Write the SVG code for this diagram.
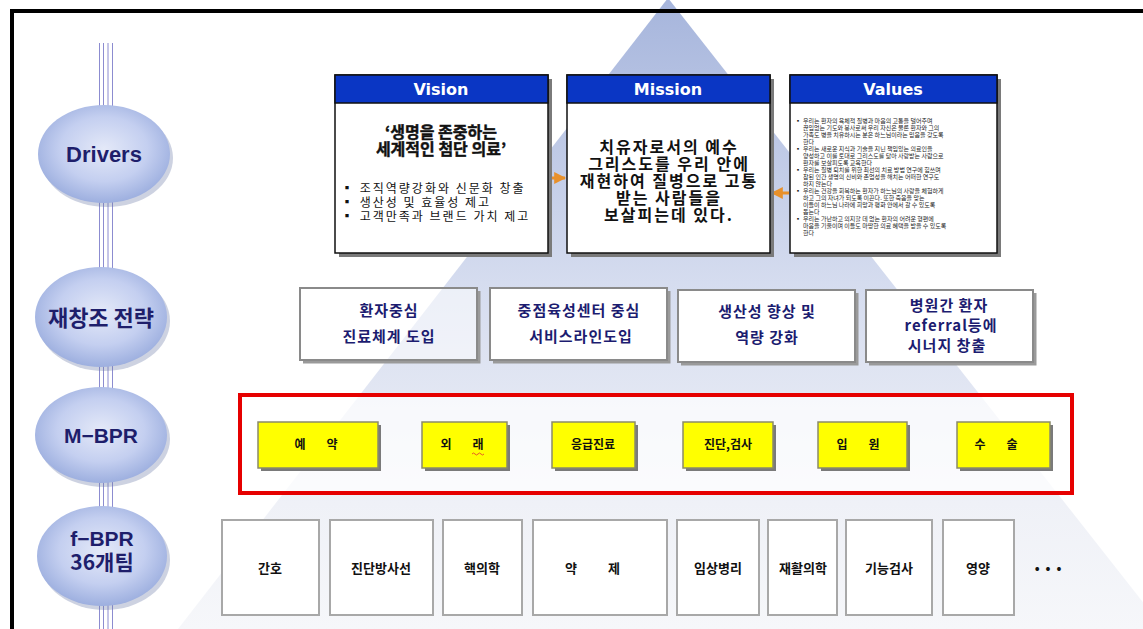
<svg xmlns="http://www.w3.org/2000/svg" width="1143" height="629" viewBox="0 0 1143 629">
<defs>
<linearGradient id="pyr" x1="0" y1="0" x2="0" y2="1">
<stop offset="0" stop-color="#a6b5dc"/>
<stop offset="0.45" stop-color="#d5dcef"/>
<stop offset="0.8" stop-color="#eff1f7"/>
<stop offset="1" stop-color="#f6f7fa"/>
</linearGradient>
<radialGradient id="ell" cx="0.5" cy="0.45" r="0.55">
<stop offset="0" stop-color="#e4e9f8"/>
<stop offset="0.6" stop-color="#c4cff0"/>
<stop offset="1" stop-color="#9dafdf"/>
</radialGradient>
<marker id="oar" viewBox="0 0 10 10" refX="9" refY="5" markerWidth="4" markerHeight="4" orient="auto-start-reverse">
<path d="M0,0 L10,5 L0,10 z" fill="#e8902a"/>
</marker>
<style>
.lvl{font-family:'Liberation Sans','Noto Sans CJK KR',sans-serif;font-weight:bold;fill:#1e1e6b;text-anchor:middle}
.kr{font-family:'Noto Sans CJK KR','Liberation Sans',sans-serif}
.hdr{font-family:'DejaVu Sans','Liberation Sans',sans-serif;font-weight:bold;font-size:16px;fill:#ffffff;text-anchor:middle}
.card{fill:#ffffff;stroke:#111111;stroke-width:1.5}
.head{fill:#0a36c4;stroke:#111111;stroke-width:1.5}
.shd{fill:#7a7a7a}
.sshd{fill:none;stroke:#9a9a9a;stroke-width:3}
.sbox{fill:#ffffff;stroke:#8a8a8a;stroke-width:2}
.stx{font-family:'Noto Sans CJK KR',sans-serif;font-weight:bold;font-size:15px;fill:#1c1c70;text-anchor:middle;letter-spacing:1px}
.ybox{fill:#ffff00;stroke:#8a8a6a;stroke-width:1.5}
.ytx{font-family:'Noto Sans CJK KR',sans-serif;font-weight:bold;font-size:12px;fill:#111111;text-anchor:middle}
.fbox{fill:#ffffff;stroke:#a8a8a8;stroke-width:2}
.ftx{font-family:'Noto Sans CJK KR',sans-serif;font-weight:bold;font-size:13px;fill:#111111;text-anchor:middle}
.vl{stroke:#8c8cd0;stroke-width:1}
.val{font-family:'Noto Sans CJK KR',sans-serif;font-size:6px;fill:#222222}
.mis{font-family:'Noto Sans CJK KR',sans-serif;font-size:16px;font-weight:bold;fill:#111111;text-anchor:middle;letter-spacing:2px}
</style>
</defs>

<rect x="0" y="0" width="1143" height="629" fill="#ffffff"/>
<polygon points="668,-2 178,629 1164,629" fill="url(#pyr)"/>
<rect x="12" y="11" width="1200" height="700" fill="none" stroke="#000000" stroke-width="4"/>

<g id="connectors">
<line class="vl" x1="99.5" y1="43" x2="99.5" y2="629"/>
<line class="vl" x1="103.5" y1="43" x2="103.5" y2="629"/>
<line class="vl" x1="108" y1="43" x2="108" y2="629"/>
<line class="vl" x1="112.5" y1="43" x2="112.5" y2="629"/>
<line x1="549" y1="178" x2="565" y2="178" stroke="#e8902a" stroke-width="3" marker-end="url(#oar)"/>
<line x1="789" y1="193" x2="772" y2="193" stroke="#e8902a" stroke-width="3" marker-end="url(#oar)"/>
</g>

<g id="lvl-drivers">
<ellipse cx="107" cy="158" rx="66" ry="49" fill="#6f7fa8" opacity="0.35"/>
<ellipse cx="104" cy="154" rx="66" ry="49" fill="url(#ell)"/>
<text class="lvl" x="104" y="162" font-size="22">Drivers</text>
</g>
<g id="lvl-strategy">
<ellipse cx="104" cy="321" rx="66" ry="50" fill="#6f7fa8" opacity="0.35"/>
<ellipse cx="101" cy="317" rx="66" ry="50" fill="url(#ell)"/>
<text class="lvl kr" x="101" y="326" font-size="22">재창조 전략</text>
</g>
<g id="lvl-mbpr">
<ellipse cx="104" cy="439" rx="66" ry="48" fill="#6f7fa8" opacity="0.35"/>
<ellipse cx="101" cy="435" rx="66" ry="48" fill="url(#ell)"/>
<text class="lvl" x="101" y="443" font-size="21">M−BPR</text>
</g>
<g id="lvl-fbpr">
<ellipse cx="105" cy="560" rx="65" ry="50" fill="#6f7fa8" opacity="0.35"/>
<ellipse cx="102" cy="556" rx="65" ry="50" fill="url(#ell)"/>
<text class="lvl" x="102" y="546" font-size="21">f−BPR</text>
<text class="lvl kr" x="102" y="570" font-size="21">36개팀</text>
</g>

<g id="vision">
<rect class="shd" x="339" y="79" width="213" height="178"/>
<rect class="card" x="335" y="75" width="213" height="178"/>
<rect class="head" x="335" y="75" width="213" height="28"/>
<text class="hdr" x="441" y="95">Vision</text>
<text class="kr" x="441" y="138" font-size="16" font-weight="bold" text-anchor="middle" fill="#111" stroke="#111" stroke-width="0.4">‘생명을 존중하는</text>
<text class="kr" x="441" y="155" font-size="16" font-weight="bold" text-anchor="middle" fill="#111" stroke="#111" stroke-width="0.4">세계적인 첨단 의료’</text>
<text class="kr" x="341" y="193" font-size="12" letter-spacing="2" fill="#111">▪ 조직역량강화와 신문화 창출</text>
<text class="kr" x="341" y="207" font-size="12" letter-spacing="2" fill="#111">▪ 생산성 및 효율성 제고</text>
<text class="kr" x="341" y="221" font-size="12" letter-spacing="2" fill="#111">▪ 고객만족과 브랜드 가치 제고</text>
</g>

<g id="mission">
<rect class="shd" x="571" y="79" width="203" height="178"/>
<rect class="card" x="567" y="75" width="203" height="178"/>
<rect class="head" x="567" y="75" width="203" height="28"/>
<text class="hdr" x="668" y="95">Mission</text>
<text class="mis" x="669" y="153">치유자로서의 예수</text>
<text class="mis" x="669" y="170">그리스도를 우리 안에</text>
<text class="mis" x="669" y="187">재현하여 질병으로 고통</text>
<text class="mis" x="669" y="204">받는 사람들을</text>
<text class="mis" x="669" y="221">보살피는데 있다.</text>
</g>

<g id="values">
<rect class="shd" x="794" y="79" width="207" height="178"/>
<rect class="card" x="790" y="75" width="207" height="178"/>
<rect class="head" x="790" y="75" width="207" height="28"/>
<text class="hdr" x="893" y="95">Values</text>
<g class="val">
<text x="795" y="123">▪</text>
<text x="803" y="123">우리는 환자의 육체적 질병과 마음의 고통을 덜어주며</text>
<text x="803" y="130">끊임없는 기도와 봉사로써 우리 자신은 물론 환자와 그의</text>
<text x="803" y="137">가족도 병을 치유하시는 분은 하느님이라는 믿음을 갖도록</text>
<text x="803" y="144">한다</text>
<text x="795" y="151">▪</text>
<text x="803" y="151">우리는 새로운 지식과 기술을 지닌 책임있는 의료인을</text>
<text x="803" y="158">양성하고 이를 토대로 그리스도를 닮아 사랑받는 사람으로</text>
<text x="803" y="165">환자를 보살피도록 교육한다</text>
<text x="795" y="172">▪</text>
<text x="803" y="172">우리는 질병 퇴치를 위한 최선의 치료 방법 연구에 힘쓰며</text>
<text x="803" y="179">참된 인간 생명의 신비와 존엄성을 해치는 어떠한 연구도</text>
<text x="803" y="186">하지 않는다</text>
<text x="795" y="193">▪</text>
<text x="803" y="193">우리는 건강을 회복하는 환자가 하느님의 사랑을 체험하게</text>
<text x="803" y="200">하고 그의 자녀가 되도록 이끈다. 또한 죽음을 맞는</text>
<text x="803" y="207">이들이 하느님 나라에 희망과 평화 안에서 갈 수 있도록</text>
<text x="803" y="214">돕는다</text>
<text x="795" y="221">▪</text>
<text x="803" y="221">우리는 가난하고 의지할 데 없는 환자의 어려운 형편에</text>
<text x="803" y="228">마음을 기울이며 이들도 마땅한 의료 혜택을 받을 수 있도록</text>
<text x="803" y="235">한다</text>
</g>
</g>

<g id="s1">
<path class="sshd" d="M479,291 V362 H303"/>
<rect class="sbox" x="300" y="288" width="177" height="72" fill-opacity="0.55"/>
<text class="stx" x="389" y="316">환자중심</text>
<text class="stx" x="389" y="342">진료체계 도입</text>
</g>
<g id="s2">
<path class="sshd" d="M669,291 V362 H493"/>
<rect class="sbox" x="490" y="288" width="177" height="72"/>
<text class="stx" x="579" y="316">중점육성센터 중심</text>
<text class="stx" x="581" y="342">서비스라인도입</text>
</g>
<g id="s3">
<path class="sshd" d="M857,293 V364 H681"/>
<rect class="sbox" x="678" y="290" width="177" height="72"/>
<text class="stx" x="767" y="317">생산성 향상 및</text>
<text class="stx" x="767" y="343">역량 강화</text>
</g>
<g id="s4">
<path class="sshd" d="M1035,293 V364 H869"/>
<rect class="sbox" x="866" y="290" width="167" height="72"/>
<text class="stx" x="949" y="311">병원간 환자</text>
<text class="stx" x="951" y="331">referral등에</text>
<text class="stx" x="947" y="351">시너지 창출</text>
</g>

<g id="mbpr-frame">
<rect x="240" y="395" width="832" height="98" fill="#ffffff" fill-opacity="0.72" stroke="#e60000" stroke-width="4"/>
</g>
<g id="m1">
<rect class="shd" x="261" y="425" width="120" height="46"/>
<rect class="ybox" x="258" y="422" width="120" height="46"/>
<text class="ytx" y="449"><tspan x="300">예</tspan><tspan x="332">약</tspan></text>
</g>
<g id="m2">
<rect class="shd" x="425" y="425" width="85" height="46"/>
<rect class="ybox" x="422" y="422" width="85" height="46"/>
<text class="ytx" y="449"><tspan x="446">외</tspan><tspan x="478">래</tspan></text>
<path d="M472,454 q1.5,-2 3,0 t3,0 t3,0 t3,0" fill="none" stroke="#e03030" stroke-width="0.8"/>
</g>
<g id="m3">
<rect class="shd" x="555" y="425" width="83" height="46"/>
<rect class="ybox" x="552" y="422" width="83" height="46"/>
<text class="ytx" x="593" y="449">응급진료</text>
</g>
<g id="m4">
<rect class="shd" x="686" y="425" width="90" height="46"/>
<rect class="ybox" x="683" y="422" width="90" height="46"/>
<text class="ytx" x="728" y="449">진단,검사</text>
</g>
<g id="m5">
<rect class="shd" x="821" y="425" width="89" height="46"/>
<rect class="ybox" x="818" y="422" width="89" height="46"/>
<text class="ytx" y="449"><tspan x="842">입</tspan><tspan x="874">원</tspan></text>
</g>
<g id="m6">
<rect class="shd" x="960" y="425" width="93" height="46"/>
<rect class="ybox" x="957" y="422" width="93" height="46"/>
<text class="ytx" y="449"><tspan x="980">수</tspan><tspan x="1012">술</tspan></text>
</g>

<g id="f1"><rect class="fbox" x="222" y="520" width="97" height="95"/><text class="ftx" x="270" y="573">간호</text></g>
<g id="f2"><rect class="fbox" x="330" y="520" width="103" height="95"/><text class="ftx" x="381" y="573">진단방사선</text></g>
<g id="f3"><rect class="fbox" x="443" y="520" width="79" height="95"/><text class="ftx" x="482" y="573">핵의학</text></g>
<g id="f4"><rect class="fbox" x="533" y="520" width="134" height="95"/><text class="ftx" y="573"><tspan x="571">약</tspan><tspan x="614">제</tspan></text></g>
<g id="f5"><rect class="fbox" x="677" y="520" width="82" height="95"/><text class="ftx" x="718" y="573">임상병리</text></g>
<g id="f6"><rect class="fbox" x="768" y="520" width="69" height="95"/><text class="ftx" x="803" y="573">재활의학</text></g>
<g id="f7"><rect class="fbox" x="846" y="520" width="86" height="95"/><text class="ftx" x="889" y="573">기능검사</text></g>
<g id="f8"><rect class="fbox" x="943" y="520" width="71" height="95"/><text class="ftx" x="978" y="573">영양</text></g>
<g id="more"><text class="ftx" x="1051" y="573" letter-spacing="6">•••</text></g>
</svg>
